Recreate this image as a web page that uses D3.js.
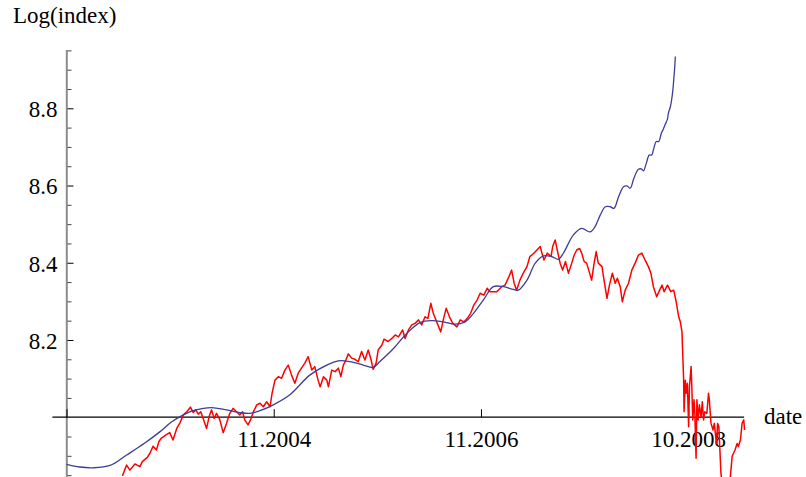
<!DOCTYPE html>
<html>
<head>
	<title>Log(index)</title>
	<meta charset="utf-8">
	<script type="text/javascript" src="https://cdn.jsdelivr.net/npm/d3@7/dist/d3.min.js"></script>
	<style type="text/css">
		html, body {
			margin: 0;
			padding: 0;
			background: #fff;
		}
		text {
			font-family: "Liberation Serif", "DejaVu Serif", serif;
			font-size: 23px;
			fill: #000;
		}
	</style>
</head>
<body>
	<div id="graph"></div>
	<script type="text/javascript">
		var W = 806, H = 477;

		// x is the trading-day count from the start of the window
		var xTicks = [0, 500, 1000, 1500];
		var xTickLabels = ["", "11.2004", "11.2006", "10.2008"];
		var yTicks = [8.2, 8.4, 8.6, 8.8];
		var yMinor = [7.85, 7.9, 7.95, 8.05, 8.1, 8.15, 8.25, 8.3, 8.35, 8.45, 8.5, 8.55, 8.65, 8.7, 8.75, 8.85, 8.9, 8.95];

		// fitted curve (blue)
		var fitDays = [0, 32, 64, 105, 145, 189, 225, 254, 282, 302, 322, 350, 386, 418, 443, 467, 499, 539, 587, 628,
			656, 684, 716, 740, 756, 789, 821, 853, 881, 909, 937, 962, 982, 1006, 1030, 1054, 1078, 1090, 1111, 1131,
			1151, 1171, 1187, 1199, 1223, 1243, 1263, 1275, 1288, 1300, 1312, 1321, 1332, 1344, 1352, 1360, 1369, 1380, 1387, 1392,
			1399, 1406, 1412, 1416, 1423, 1429, 1435, 1440, 1444, 1450, 1452, 1457, 1460, 1463, 1465, 1467, 1469];
		var fitLog = [7.878, 7.871, 7.869, 7.875, 7.902, 7.933, 7.962, 7.988, 8.006, 8.016, 8.021, 8.025, 8.019, 8.012, 8.010, 8.017, 8.032, 8.058, 8.109, 8.135,
			8.146, 8.144, 8.135, 8.129, 8.144, 8.178, 8.217, 8.245, 8.250, 8.247, 8.241, 8.247, 8.269, 8.304, 8.338, 8.338, 8.331, 8.329, 8.355, 8.399,
			8.418, 8.416, 8.409, 8.425, 8.472, 8.489, 8.480, 8.493, 8.524, 8.545, 8.545, 8.541, 8.571, 8.597, 8.599, 8.593, 8.619, 8.642, 8.643, 8.638,
			8.658, 8.679, 8.679, 8.692, 8.714, 8.714, 8.735, 8.746, 8.757, 8.772, 8.787, 8.804, 8.822, 8.847, 8.873, 8.899, 8.934];

		// index (red)
		var indexDays = [135, 145, 153, 165, 177, 183, 195, 201, 209, 217, 223, 229, 240, 249, 257, 266, 274, 282, 290, 299,
			306, 312, 318, 324, 331, 338, 344, 350, 356, 362, 370, 378, 386, 394, 402, 410, 418, 425, 430, 438,
			444, 451, 459, 467, 475, 483, 491, 496, 503, 511, 519, 527, 535, 543, 551, 559, 567, 575, 583, 592,
			599, 607, 612, 620, 628, 632, 640, 648, 656, 662, 668, 674, 680, 688, 696, 704, 712, 720, 728, 735,
			740, 747, 752, 761, 766, 776, 785, 793, 801, 811, 817, 825, 833, 841, 849, 857, 865, 872, 879, 885,
			893, 903, 909, 916, 924, 932, 942, 950, 959, 967, 975, 983, 991, 998, 1007, 1015, 1022, 1038, 1050, 1058,
			1066, 1074, 1080, 1086, 1094, 1102, 1111, 1118, 1127, 1135, 1143, 1147, 1152, 1160, 1169, 1173, 1179, 1184, 1191, 1197,
			1204, 1211, 1219, 1225, 1231, 1238, 1243, 1249, 1255, 1261, 1267, 1273, 1278, 1283, 1292, 1297, 1304, 1310, 1317, 1324,
			1329, 1336, 1341, 1348, 1356, 1364, 1372, 1380, 1388, 1396, 1404, 1410, 1416, 1424, 1431, 1437, 1442, 1450, 1458, 1465,
			1471, 1477, 1481, 1485, 1487, 1489, 1490, 1493, 1495, 1498, 1501, 1503, 1507, 1509, 1511, 1514, 1516, 1519, 1521, 1524,
			1527, 1531, 1534, 1537, 1540, 1545, 1549, 1551, 1555, 1560, 1563, 1568, 1571, 1574, 1579, 1581, 1590, 1601, 1606, 1609,
			1613, 1618, 1621, 1626, 1630, 1634, 1636];
		var indexLog = [7.848, 7.876, 7.863, 7.879, 7.872, 7.885, 7.896, 7.906, 7.925, 7.915, 7.937, 7.946, 7.954, 7.960, 7.941, 7.971, 7.986, 8.006, 8.014, 8.026,
			8.012, 8.019, 8.008, 8.014, 7.993, 7.971, 8.001, 8.019, 7.997, 8.010, 7.993, 7.960, 7.984, 8.010, 8.023, 8.014, 8.006, 8.014, 7.993, 7.980,
			7.993, 8.014, 8.032, 8.036, 8.027, 8.040, 8.027, 8.062, 8.096, 8.105, 8.101, 8.122, 8.135, 8.109, 8.088, 8.114, 8.127, 8.140, 8.157, 8.122,
			8.131, 8.096, 8.079, 8.105, 8.096, 8.079, 8.122, 8.118, 8.127, 8.105, 8.135, 8.148, 8.164, 8.153, 8.150, 8.144, 8.170, 8.148, 8.174, 8.148,
			8.124, 8.140, 8.174, 8.187, 8.202, 8.196, 8.204, 8.213, 8.208, 8.226, 8.204, 8.226, 8.239, 8.243, 8.252, 8.239, 8.260, 8.256, 8.295, 8.269,
			8.247, 8.221, 8.252, 8.282, 8.260, 8.243, 8.234, 8.252, 8.247, 8.256, 8.269, 8.291, 8.304, 8.321, 8.316, 8.334, 8.325, 8.325, 8.338, 8.342,
			8.360, 8.381, 8.347, 8.329, 8.355, 8.373, 8.390, 8.416, 8.424, 8.433, 8.442, 8.425, 8.407, 8.425, 8.416, 8.442, 8.459, 8.433, 8.399, 8.381,
			8.403, 8.373, 8.399, 8.420, 8.433, 8.437, 8.425, 8.403, 8.399, 8.377, 8.355, 8.399, 8.429, 8.399, 8.390, 8.355, 8.308, 8.342, 8.373, 8.347,
			8.360, 8.338, 8.299, 8.329, 8.347, 8.381, 8.399, 8.420, 8.425, 8.407, 8.390, 8.373, 8.338, 8.312, 8.329, 8.342, 8.325, 8.342, 8.325, 8.329,
			8.299, 8.260, 8.247, 8.221, 8.157, 8.096, 8.014, 8.096, 8.062, 8.088, 7.975, 8.079, 8.131, 8.070, 7.993, 8.045, 8.010, 7.894, 8.045, 7.993,
			8.032, 8.001, 8.040, 7.993, 8.014, 8.010, 8.062, 8.045, 7.984, 7.967, 7.984, 7.932, 7.984, 7.975, 7.855, 7.837, 7.800, 7.837, 7.898, 7.906,
			7.915, 7.932, 7.924, 7.941, 7.984, 7.993, 7.967];

		var x = d3.scaleLinear().domain([0, 1500]).range([66.5, 688.2]);
		var y = d3.scaleLinear().domain([8.0, 8.8]).range([417.2, 108.3]);

		var svg = d3.select('#graph').append('svg')
			.attr('width', W)
			.attr('height', H);

		// y axis: gray spine, minor and major ticks
		svg.append('line')
			.attr('x1', x(0) + 0.3).attr('x2', x(0) + 0.3)
			.attr('y1', y(8.951)).attr('y2', H)
			.attr('stroke', '#8c8c8c')
			.attr('stroke-width', 2);

		var yMin = svg.append('g')
			.attr('transform', 'translate(' + (x(0) + 1) + ',0)')
			.call(d3.axisRight(y).tickValues(yMinor).tickSize(4).tickFormat(''));
		yMin.select('.domain').remove();
		yMin.selectAll('line').attr('stroke', '#444');

		var yMaj = svg.append('g')
			.attr('transform', 'translate(' + (x(0) + 1) + ',0)')
			.call(d3.axisRight(y).tickValues(yTicks).tickSize(6).tickFormat(d3.format('.1f')));
		yMaj.select('.domain').remove();
		yMaj.selectAll('line').attr('stroke', '#000');
		yMaj.selectAll('text')
			.attr('x', -10)
			.attr('dy', '0.36em')
			.attr('text-anchor', 'end')
			.style('font-size', '23px')
			.style('font-family', '"Liberation Serif", serif');

		// x axis
		svg.append('line')
			.attr('x1', x(-34)).attr('x2', x(1635))
			.attr('y1', y(8.0)).attr('y2', y(8.0))
			.attr('stroke', '#000')
			.attr('stroke-width', 1.3);

		var xAx = svg.append('g')
			.attr('transform', 'translate(0,' + y(8.0) + ')')
			.call(d3.axisBottom(x).tickValues(xTicks).tickSize(-8)
				.tickFormat(function(d, i) { return xTickLabels[i]; }));
		xAx.select('.domain').remove();
		xAx.selectAll('line').attr('stroke', '#000');
		xAx.selectAll('text')
			.attr('y', 29.5)
			.attr('dy', 0)
			.style('font-size', '23px')
			.style('font-family', '"Liberation Serif", serif');

		// curves
		var fit = fitDays.map(function(d, i) { return [d, fitLog[i]]; });
		var idx = indexDays.map(function(d, i) { return [d, indexLog[i]]; });

		var line = d3.line()
			.x(function(d) { return x(d[0]); })
			.y(function(d) { return y(d[1]); });

		svg.append('path')
			.attr('d', line(idx))
			.attr('fill', 'none')
			.attr('stroke', '#ff0000')
			.attr('stroke-width', 1.5)
			.attr('stroke-linejoin', 'round');

		svg.append('path')
			.attr('d', line.curve(d3.curveCatmullRom.alpha(0.5))(fit))
			.attr('fill', 'none')
			.attr('stroke', '#3d3d99')
			.attr('stroke-width', 1.3);

		// axis titles
		svg.append('text')
			.attr('x', 13)
			.attr('y', 23)
			.text('Log(index)');

		svg.append('text')
			.attr('x', 764)
			.attr('y', 424)
			.text('date');
	</script>
</body>
</html>
